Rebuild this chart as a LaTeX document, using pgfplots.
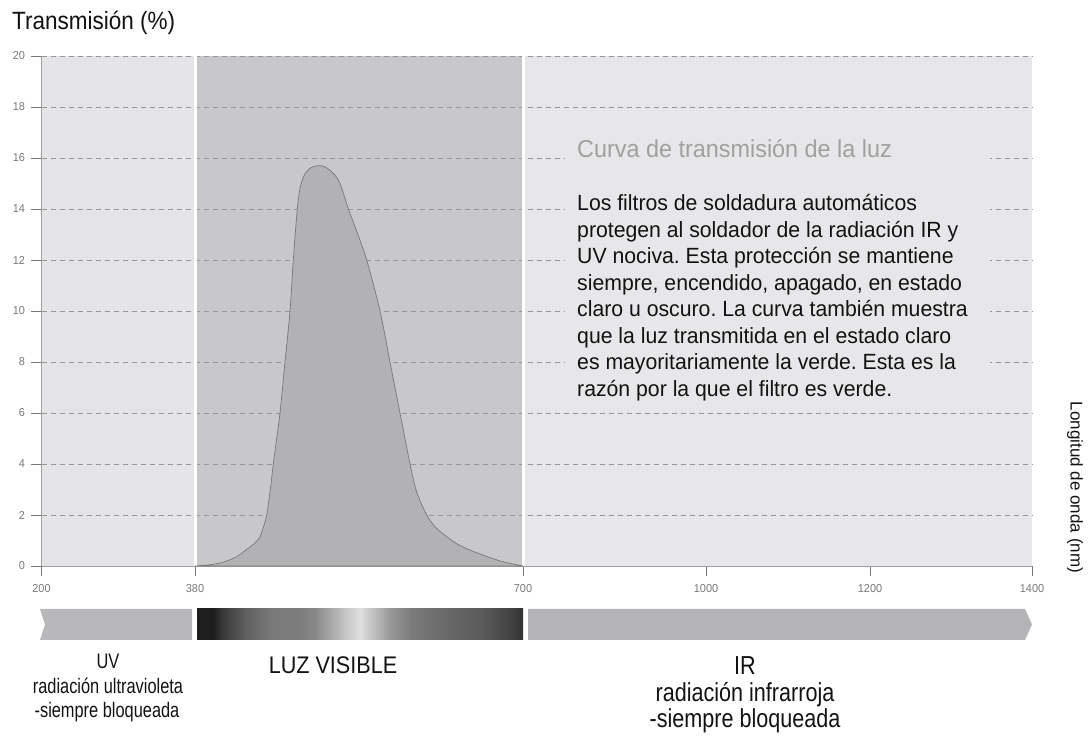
\documentclass[border=0pt]{standalone}
\usepackage{fontspec}
\setmainfont{Liberation Sans}
\newfontfamily\condT[FakeStretch=0.90]{Liberation Sans}
\newfontfamily\condA[FakeStretch=0.965]{Liberation Sans}
\newfontfamily\condS[FakeStretch=0.955]{Liberation Sans}
\newfontfamily\condU[FakeStretch=0.78]{Liberation Sans}
\newfontfamily\condI[FakeStretch=0.83]{Liberation Sans}
\newfontfamily\condL[FakeStretch=0.90]{Liberation Sans}
\newfontfamily\condK[FakeStretch=0.95]{Liberation Sans}
\usepackage{pgfplots}
\pgfplotsset{compat=1.18}
\frenchspacing

\definecolor{uvbg}{RGB}{228,228,230}
\definecolor{visbg}{RGB}{200,200,202}
\definecolor{irbg}{RGB}{231,231,233}
\definecolor{curvefill}{RGB}{178,178,180}
\definecolor{curveline}{RGB}{120,120,120}
\definecolor{gridc}{RGB}{150,150,150}
\definecolor{axisc}{RGB}{160,160,160}
\definecolor{tickc}{RGB}{120,120,120}
\definecolor{bandUV}{RGB}{184,184,186}
\definecolor{bandIR}{RGB}{180,180,182}
\definecolor{txt}{RGB}{18,18,18}
\definecolor{subt}{RGB}{160,160,160}

\definecolor{g0}{RGB}{30,30,30}
\definecolor{g1}{RGB}{58,58,58}
\definecolor{g2}{RGB}{96,96,96}
\definecolor{g3}{RGB}{122,122,122}
\definecolor{g4}{RGB}{124,124,124}
\definecolor{g5}{RGB}{136,136,136}
\definecolor{g6}{RGB}{168,168,168}
\definecolor{g7}{RGB}{200,200,200}
\definecolor{g8}{RGB}{224,224,224}
\definecolor{g9}{RGB}{192,192,192}
\definecolor{g10}{RGB}{154,154,154}
\definecolor{g11}{RGB}{122,122,122}
\definecolor{g12}{RGB}{104,104,104}
\definecolor{g13}{RGB}{92,92,92}
\definecolor{g14}{RGB}{64,64,64}
\definecolor{g15}{RGB}{48,48,48}

\pgfdeclarehorizontalshading{visspec}{100bp}{color(0bp)=(g0); color(25bp)=(g0); color(27.5bp)=(g0); color(29bp)=(g1); color(32.5bp)=(g2); color(36.5bp)=(g3); color(40.5bp)=(g4); color(43bp)=(g5); color(45.5bp)=(g6); color(48bp)=(g7); color(50bp)=(g8); color(52bp)=(g9); color(54.5bp)=(g10); color(58bp)=(g11); color(63.5bp)=(g12); color(68.5bp)=(g13); color(73.5bp)=(g14); color(75bp)=(g15); color(100bp)=(g15)}

\pgfplotstableread{
nm   T
380   0
395   0.05
407.6 0.15
420   0.35
428.8 0.6
438.5 0.9
443.4 1.15
447.3 1.6
450   2.0
453.5 3.0
456.4 4
462.9 6
467.8 8
472.7 10
475.9 12
479.8 14
482.4 14.8
486.3 15.3
492.2 15.6
500   15.7
506.8 15.65
514.9 15.4
521.5 15.0
529.6 14
537.1 13.2
547.5 12
560.5 10
570.2 8
580   6
589.8 4
596.3 2.9
606.1 2
615.1 1.5
625.6 1.15
638.5 0.8
658   0.47
677.6 0.2
690   0.08
700   0
}\curvedata

\begin{document}
\begin{tikzpicture}
\begin{axis}[
  at={(41.5pt,170pt)}, anchor=south west,
  scale only axis, width=990.5pt, height=510pt,
  xmin=230.24, xmax=1196.59, ymin=0, ymax=20,
  set layers, clip=false,
  axis x line*=bottom, axis y line*=left,
  axis line style={axisc, line width=0.9pt},
  xtick={230.24,380,700,878.54,1038.54,1196.59},
  xticklabels={200,380,700,1000,1200,1400},
  ytick={0,2,...,20},
  tick align=outside,
  major tick length=10pt,
  tick style={tickc, line width=0.8pt},
  ymajorgrids,
  grid style={gridc, line width=0.9pt, dash pattern=on 5pt off 4pt},
  ticklabel style={font=\condK\fontsize{11.5}{12}\selectfont, text=tickc},
  /pgf/number format/assume math mode=true,
  xticklabel style={yshift=-5pt},
  yticklabel style={xshift=-3pt},
]
\begin{pgfonlayer}{axis background}
\fill[uvbg] (axis cs:230.24,0) rectangle (axis cs:380,20);
\fill[visbg] (axis cs:380,0) rectangle (axis cs:700,20);
\fill[irbg] (axis cs:700,0) rectangle (axis cs:1196.59,20);
\end{pgfonlayer}
\draw[white, line width=3pt] (axis cs:380,0) -- (axis cs:380,20);
\draw[white, line width=3pt] (axis cs:700,0) -- (axis cs:700,20);
\addplot[fill=curvefill, draw=curveline, line width=0.7pt, smooth, tension=0.5] table[x=nm, y=T] {\curvedata} \closedcycle;
\fill[irbg] (axis cs:741,6.35) rectangle (axis cs:1155.6,16.9);
\end{axis}

% title
\node[anchor=base west, inner sep=0pt, text=txt, font=\condT\fontsize{25}{30}\selectfont] at (12pt,706pt) {Transmisión (\%)};

% text block
\node[anchor=base west, inner sep=0pt, text=subt, font=\condS\fontsize{24.5}{29}\selectfont] at (577pt,578pt) {Curva de transmisión de la luz};
\foreach \t [count=\i] in {
  {Los filtros de soldadura automáticos},
  {protegen al soldador de la radiación IR y},
  {UV nociva. Esta protección se mantiene},
  {siempre, encendido, apagado, en estado},
  {claro u oscuro. La curva también muestra},
  {que la luz transmitida en el estado claro},
  {es mayoritariamente la verde. Esta es la},
  {razón por la que el filtro es verde.}} {
  \node[anchor=base west, inner sep=0pt, text=txt, font=\condA\fontsize{22}{26}\selectfont] at (577pt,{525pt-(\i-1)*26.45pt}) {\t};
}

% right axis label
\node[rotate=-90, inner sep=0pt, text=txt, font=\fontsize{17}{20}\selectfont] at (1075pt,248.5pt) {Longitud de onda (nm)};

% spectrum band
\fill[bandUV] (40pt,127pt) -- (192pt,127pt) -- (192pt,96pt) -- (40pt,96pt) -- (45pt,111.5pt) -- cycle;
\shade[shading=visspec] (197pt,96pt) rectangle (523pt,127pt);
\fill[bandIR] (528pt,127pt) -- (1025pt,127pt) -- (1032pt,111.5pt) -- (1025pt,96pt) -- (528pt,96pt) -- cycle;

% band labels
\begin{scope}[every node/.style={anchor=base, inner sep=0pt, text=txt}]
\node[font=\condU\fontsize{21}{24}\selectfont] at (108pt,67pt) {UV};
\node[font=\condU\fontsize{21}{24}\selectfont] at (108pt,42pt) {radiación ultravioleta};
\node[font=\condU\fontsize{21}{24}\selectfont] at (107pt,18pt) {-siempre bloqueada};
\node[font=\condL\fontsize{24}{28}\selectfont] at (333pt,62pt) {LUZ VISIBLE};
\node[font=\condI\fontsize{26}{30}\selectfont] at (745pt,61pt) {IR};
\node[font=\condI\fontsize{26}{30}\selectfont] at (745pt,34pt) {radiación infrarroja};
\node[font=\condI\fontsize{26}{30}\selectfont] at (745pt,8pt) {-siempre bloqueada};
\end{scope}
\pgfresetboundingbox
\useasboundingbox (0pt,0pt) rectangle (1088pt,736pt);
\end{tikzpicture}
\end{document}
